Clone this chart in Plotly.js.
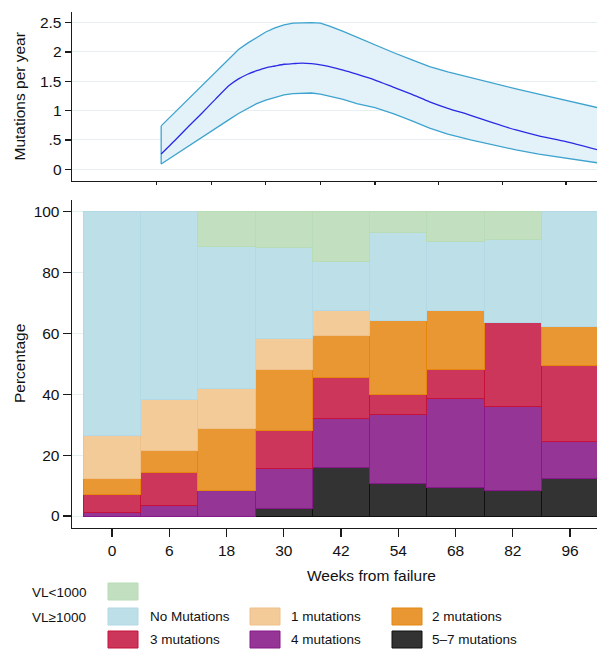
<!DOCTYPE html>
<html>
<head>
<meta charset="utf-8">
<script src="https://cdn.plot.ly/plotly-3.0.1.min.js"></script>
<style>html,body{margin:0;padding:0;background:#fff;}#chart{width:597px;height:651px;}</style>
</head>
<body>
<div id="chart"></div>
<script>
// ---- Top panel: mutation rate (per year) by weeks from failure ----
var rateWeeks = [7, 10, 13, 16, 19, 22, 24, 26, 28, 30, 32, 34, 36, 38, 40, 42, 44, 47, 50, 54, 58, 62, 66, 70, 75, 80, 85, 90, 96, 103];
var rateMid   = [0.26, 0.49, 0.73, 0.96, 1.20, 1.43, 1.54, 1.62, 1.68, 1.73, 1.76, 1.79, 1.80, 1.81, 1.80, 1.78, 1.75, 1.69, 1.62, 1.52, 1.40, 1.28, 1.15, 1.04, 0.92, 0.79, 0.67, 0.57, 0.47, 0.33];
var rateUpper = [0.74, 0.97, 1.21, 1.44, 1.67, 1.90, 2.04, 2.15, 2.25, 2.34, 2.41, 2.46, 2.49, 2.50, 2.50, 2.49, 2.44, 2.35, 2.25, 2.12, 1.99, 1.87, 1.75, 1.66, 1.56, 1.46, 1.37, 1.28, 1.18, 1.05];
var rateLower = [0.09, 0.24, 0.40, 0.55, 0.70, 0.85, 0.95, 1.04, 1.12, 1.18, 1.23, 1.27, 1.29, 1.30, 1.30, 1.28, 1.25, 1.19, 1.12, 1.05, 0.95, 0.83, 0.70, 0.60, 0.50, 0.41, 0.33, 0.26, 0.19, 0.11];
var rateTickVals = [6, 18, 30, 42, 54, 68, 82, 96];
var rateYTickVals = [0, 0.5, 1, 1.5, 2, 2.5];
var rateYTickText = ['0', '.5', '1', '1.5', '2', '2.5'];

// ---- Bottom panel: percentage by category ----
var weekLabels = ['0', '6', '18', '30', '42', '54', '68', '82', '96'];
var mut57   = [null, null, null, 2.5, 16.0, 10.7, 9.4, 8.5, 12.2];
var mut4    = [1.0, 3.3, 8.5, 13.0, 16.1, 22.5, 29.3, 27.4, 12.4];
var mut3    = [6.2, 10.9, null, 12.7, 13.5, 6.6, 9.6, 27.6, 25.0];
var mut2    = [5.0, 7.2, 20.1, 20.1, 13.6, 24.6, 19.1, null, 12.6];
var mut1    = [14.1, 16.9, 13.4, 10.0, 8.2, null, null, null, null];
var mut0    = [73.7, 61.7, 46.7, 30.0, 16.4, 28.8, 22.7, 27.4, 37.8];
var vlLow   = [null, null, 11.3, 11.7, 16.2, 6.8, 9.9, 9.1, null];
var pctTickVals = [0, 20, 40, 60, 80, 100];

var FONT = 'Liberation Sans, Arial, Helvetica, sans-serif';
var W = 597, H = 651, ML = 72, MR = 0, MT = 12, MB = 123;
var PW = W - ML - MR, PH = H - MT - MB;
function px(x) { return (x - ML) / PW; }
function py(y) { return (H - MB - y) / PH; }

var series = [
  {name: '5–7 mutations', y: mut57, fill: '#333333', line: '#111111'},
  {name: '4 mutations',   y: mut4,  fill: '#953595', line: '#86188a'},
  {name: '3 mutations',   y: mut3,  fill: '#cc365b', line: '#c4123a'},
  {name: '2 mutations',   y: mut2,  fill: '#e99733', line: '#e5870f'},
  {name: '1 mutations',   y: mut1,  fill: '#f3cb99', line: '#efc08a'},
  {name: 'No Mutations',  y: mut0,  fill: '#bddfe8', line: '#b3d9e6'},
  {name: 'VL<1000',       y: vlLow, fill: '#c2e0c0', line: '#b8dcb6'}
];

var traces = [];
// CI band as closed polygon
var bandX = rateWeeks.concat(rateWeeks.slice().reverse());
var bandY = rateUpper.concat(rateLower.slice().reverse());
bandX.push(rateWeeks[0]); bandY.push(rateUpper[0]);
traces.push({
  type: 'scatter', mode: 'lines', x: bandX, y: bandY, fill: 'toself',
  fillcolor: '#e3f1f8', line: {color: '#3ea3cf', width: 1.3},
  xaxis: 'x', yaxis: 'y', hoverinfo: 'skip', showlegend: false
});
traces.push({
  type: 'scatter', mode: 'lines', x: rateWeeks, y: rateMid,
  line: {color: '#2a2ae6', width: 1.3, shape: 'spline', smoothing: 0.6},
  xaxis: 'x', yaxis: 'y', showlegend: false
});
series.forEach(function (s) {
  traces.push({
    type: 'bar', x: weekLabels, y: s.y, name: s.name,
    marker: {color: s.fill, line: {color: s.line, width: 1}},
    width: 1, xaxis: 'x2', yaxis: 'y2', showlegend: false
  });
});

var shapes = [], annotations = [];
function txt(t, x, y, anchor, size, angle) {
  annotations.push({text: t, xref: 'paper', yref: 'paper', x: x, y: y,
    xanchor: anchor || 'left', yanchor: 'middle', showarrow: false,
    textangle: angle || 0, font: {family: FONT, size: size || 14, color: '#111'}});
}
// axis titles
txt('Mutations per year', px(19), py(96.5), 'center', 15.5, -90);
txt('Percentage', px(19), py(364), 'center', 15.5, -90);
txt('Weeks from failure', px(371), py(575), 'center', 15.5);

// custom legend
function sw(x0, x1, y0, y1, fill, line) {
  shapes.push({type: 'rect', xref: 'paper', yref: 'paper', x0: px(x0), x1: px(x1),
    y0: py(y1), y1: py(y0), fillcolor: fill, line: {color: line, width: 1}});
}
var colOf = {};
series.forEach(function (s) { colOf[s.name] = s; });
txt('VL<1000', px(30), py(592), 'left', 13.5);
txt('VL≥1000', px(30), py(617), 'left', 13.5);
sw(108, 138, 583, 600, colOf['VL<1000'].fill, colOf['VL<1000'].line);
var legRows = [
  [['No Mutations', 108, 148], ['1 mutations', 250, 289], ['2 mutations', 392, 430]],
  [['3 mutations', 108, 148], ['4 mutations', 250, 289], ['5–7 mutations', 392, 430]]
];
var rowY = [[608, 625], [631, 648]];
legRows.forEach(function (row, i) {
  row.forEach(function (e) {
    var s = colOf[e[0]];
    sw(e[1], e[1] + 30, rowY[i][0], rowY[i][1], s.fill, s.line);
    txt(e[0], px(e[2]), py((rowY[i][0] + rowY[i][1]) / 2), 'left', 13.5);
  });
});

var axisCommon = {
  showline: true, linecolor: '#1a1a1a', linewidth: 1.4, zeroline: false,
  tickfont: {family: FONT, size: 15.5, color: '#111'}, ticks: 'outside',
  tickcolor: '#1a1a1a', tickwidth: 1.2
};
var layout = {
  width: W, height: H,
  margin: {l: ML, r: MR, t: MT, b: MB, pad: 0},
  paper_bgcolor: '#ffffff', plot_bgcolor: '#ffffff',
  showlegend: false, barmode: 'stack', bargap: 0,
  font: {family: FONT, size: 14, color: '#111'},
  xaxis: Object.assign({}, axisCommon, {
    domain: [0, 1], anchor: 'y', range: [-12.6, 102.8],
    tickvals: rateTickVals, showticklabels: false, ticklen: 3, showgrid: false
  }),
  yaxis: Object.assign({}, axisCommon, {
    domain: [py(180.7), 1], anchor: 'x', range: [-0.194, 2.68],
    tickvals: rateYTickVals, ticktext: rateYTickText, ticklen: 6,
    showgrid: true, gridcolor: '#e6eff2', gridwidth: 1
  }),
  xaxis2: Object.assign({}, axisCommon, {
    domain: [0, 1], anchor: 'y2', type: 'category', range: [-0.70, 8.47],
    ticklen: 8, showgrid: false
  }),
  yaxis2: Object.assign({}, axisCommon, {
    domain: [0, py(200)], anchor: 'x2', range: [-3.94, 103.85],
    tickvals: pctTickVals, ticklen: 8,
    showgrid: true, gridcolor: '#e6eff2', gridwidth: 1
  }),
  shapes: shapes, annotations: annotations
};
Plotly.newPlot('chart', traces, layout, {displayModeBar: false, staticPlot: true});
</script>
</body>
</html>
